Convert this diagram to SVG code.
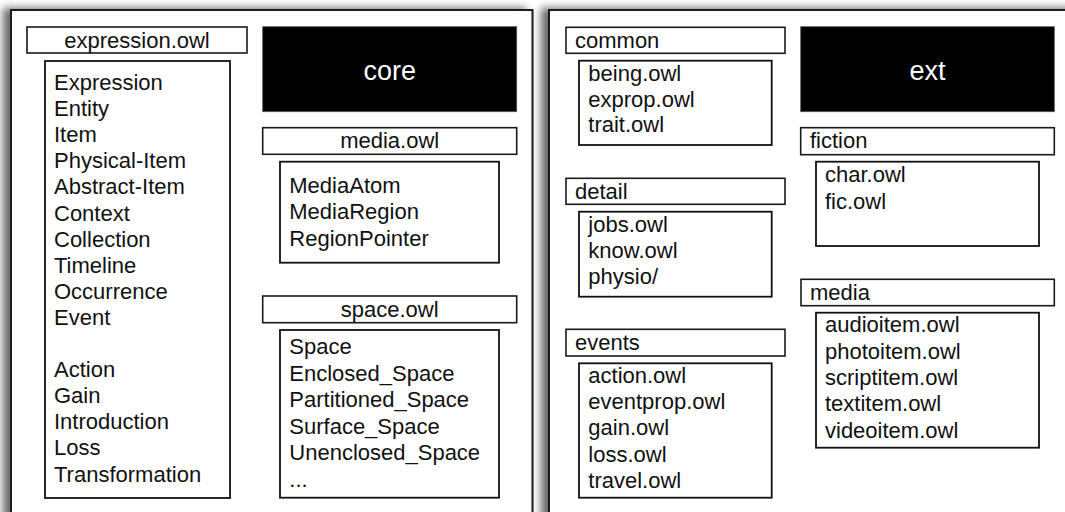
<svg xmlns="http://www.w3.org/2000/svg" width="1065" height="512" viewBox="0 0 1065 512">
  <defs>
    <filter id="shadow" x="-10%" y="-10%" width="120%" height="120%">
      <feGaussianBlur in="SourceAlpha" stdDeviation="4"/>
      <feOffset dx="-7" dy="-1" result="blur"/>
      <feComponentTransfer>
        <feFuncA type="linear" slope="0.6"/>
      </feComponentTransfer>
      <feMerge>
        <feMergeNode/>
        <feMergeNode in="SourceGraphic"/>
      </feMerge>
    </filter>
  </defs>
  <style>
    .panel { fill: #ffffff; stroke: #1a1a1a; stroke-width: 2; }
    .hdr { fill: #ffffff; stroke: #1a1a1a; stroke-width: 1.6; }
    .box { fill: #ffffff; stroke: #111111; stroke-width: 1.8; }
    .title { fill: #000000; stroke: #555555; stroke-width: 0.8; }
    text { font-family: "Liberation Sans", Arial, Helvetica, sans-serif; font-size: 22px; fill: #111111; }
    .c { text-anchor: middle; }
    .big { font-size: 27px; fill: #ffffff; text-anchor: middle; }
  </style>
  <rect width="1065" height="512" fill="#ffffff"/>

  <!-- core panel -->
  <g id="core-panel">
    <rect class="panel" x="11" y="10" width="521.5" height="530" filter="url(#shadow)"/>

    <g id="expression-owl">
      <rect class="hdr" x="27" y="27" width="220" height="26"/>
      <text class="c" x="137" y="47.5">expression.owl</text>
      <rect class="box" x="45" y="61" width="185" height="437"/>
      <text x="54" y="90">Expression</text>
      <text x="54" y="116.1">Entity</text>
      <text x="54" y="142.2">Item</text>
      <text x="54" y="168.3">Physical-Item</text>
      <text x="54" y="194.4">Abstract-Item</text>
      <text x="54" y="220.5">Context</text>
      <text x="54" y="246.6">Collection</text>
      <text x="54" y="272.7">Timeline</text>
      <text x="54" y="298.8">Occurrence</text>
      <text x="54" y="324.9">Event</text>
      <text x="54" y="377.1">Action</text>
      <text x="54" y="403.2">Gain</text>
      <text x="54" y="429.3">Introduction</text>
      <text x="54" y="455.4">Loss</text>
      <text x="54" y="481.5">Transformation</text>
    </g>

    <g id="core-title">
      <rect class="title" x="262.7" y="26.7" width="254" height="85"/>
      <text class="big" x="389.7" y="80">core</text>
    </g>

    <g id="media-owl">
      <rect class="hdr" x="262.7" y="127.7" width="254" height="26.6"/>
      <text class="c" x="389.7" y="148.3">media.owl</text>
      <rect class="box" x="280" y="161.7" width="219" height="101"/>
      <text x="289.3" y="192.7">MediaAtom</text>
      <text x="289.3" y="219.2">MediaRegion</text>
      <text x="289.3" y="245.7">RegionPointer</text>
    </g>

    <g id="space-owl">
      <rect class="hdr" x="262.7" y="296" width="254" height="26.7"/>
      <text class="c" x="389.7" y="316.6">space.owl</text>
      <rect class="box" x="280" y="330" width="219" height="167.7"/>
      <text x="289.3" y="354.3">Space</text>
      <text x="289.3" y="380.8">Enclosed_Space</text>
      <text x="289.3" y="407.3">Partitioned_Space</text>
      <text x="289.3" y="433.8">Surface_Space</text>
      <text x="289.3" y="460.3">Unenclosed_Space</text>
      <text x="289.3" y="486.8">...</text>
    </g>
  </g>

  <!-- ext panel -->
  <g id="ext-panel">
    <rect class="panel" x="549" y="10" width="540" height="530" filter="url(#shadow)"/>

    <g id="common">
      <rect class="hdr" x="566" y="27.3" width="219" height="26"/>
      <text x="575" y="47.5">common</text>
      <rect class="box" x="579" y="60.7" width="192.7" height="84.3"/>
      <text x="588.3" y="81">being.owl</text>
      <text x="588.3" y="106.7">exprop.owl</text>
      <text x="588.3" y="132.4">trait.owl</text>
    </g>

    <g id="detail">
      <rect class="hdr" x="566" y="178.3" width="219" height="26"/>
      <text x="575" y="198.5">detail</text>
      <rect class="box" x="579" y="211.7" width="192.7" height="85"/>
      <text x="588.3" y="231.7">jobs.owl</text>
      <text x="588.3" y="258">know.owl</text>
      <text x="588.3" y="284.3">physio/</text>
    </g>

    <g id="events">
      <rect class="hdr" x="566" y="329.3" width="219" height="26.7"/>
      <text x="575" y="349.8">events</text>
      <rect class="box" x="579" y="363.3" width="192.7" height="134.4"/>
      <text x="588.3" y="382.7">action.owl</text>
      <text x="588.3" y="409">eventprop.owl</text>
      <text x="588.3" y="435.3">gain.owl</text>
      <text x="588.3" y="461.6">loss.owl</text>
      <text x="588.3" y="487.9">travel.owl</text>
    </g>

    <g id="ext-title">
      <rect class="title" x="800.7" y="26.7" width="253.6" height="85"/>
      <text class="big" x="927.5" y="80">ext</text>
    </g>

    <g id="fiction">
      <rect class="hdr" x="800.7" y="127.7" width="253.6" height="27"/>
      <text x="810" y="148.3">fiction</text>
      <rect class="box" x="816" y="161.7" width="223" height="84.3"/>
      <text x="825" y="182.3">char.owl</text>
      <text x="825" y="208.7">fic.owl</text>
    </g>

    <g id="media">
      <rect class="hdr" x="801" y="279.3" width="253.3" height="26.4"/>
      <text x="810" y="299.8">media</text>
      <rect class="box" x="816" y="312.7" width="223" height="135"/>
      <text x="825" y="332.3">audioitem.owl</text>
      <text x="825" y="358.6">photoitem.owl</text>
      <text x="825" y="384.9">scriptitem.owl</text>
      <text x="825" y="411.2">textitem.owl</text>
      <text x="825" y="437.5">videoitem.owl</text>
    </g>
  </g>

  <!-- no connectors are drawn between the nodes -->
  <g id="connectors"/>
</svg>
